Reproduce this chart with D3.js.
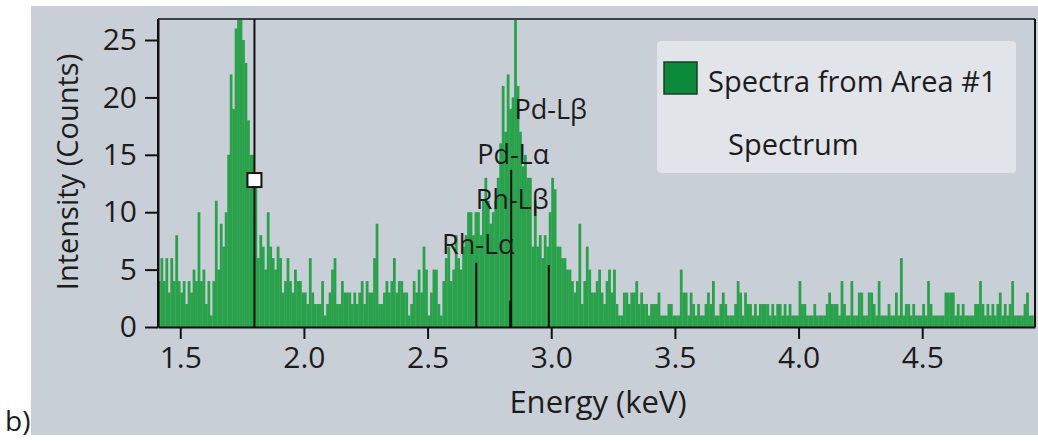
<!DOCTYPE html>
<html>
<head>
<meta charset="utf-8">
<script src="https://cdn.jsdelivr.net/npm/d3@7"></script>
<style>
  html, body { margin: 0; padding: 0; background: #ffffff; }
  svg { display: block; }
  text { font-family: "Open Sans", "Noto Sans", sans-serif; fill: #1c1c1c; }
</style>
</head>
<body>
<svg id="chart" width="1038" height="441"></svg>
<script>
// ---------------- data ----------------
const energyStart = 1.41;      // keV, left edge of first channel
const channelWidth = 0.01;     // keV per channel
const counts = [
  // 1.41 - 1.89
  4,6,4,6,3,6,4,8,4,3, 4,2,4,3,5,4,10,4,5,2, 4,1,4,11,5,9,7,10,15,22, 19,26,28,27,25,23,18,15,15,13, 6,8,7,5,10,7,6,5,7,
  // 1.90 - 2.39
  6,3,4,6,4,3,5,4,4,3, 3,2,6,3,2,2,2,4,1,2, 3,5,6,2,2,4,3,3,3,2, 3,2,3,4,2,4,3,3,6,9, 2,2,3,4,3,4,6,3,4,4,
  // 2.40 - 2.90
  3,3,1,2,4,3,5,3,7,5, 1,3,5,5,2,1,4,6,7,4, 5,8,6,5,7,8,10,10,8,10, 10,8,11,13,11,9,10,11,13,16, 21,17,22,19,20,27,21,17,14,15, 13,
  // 2.91 - 3.41
  13,7,11,7,8,6,8,7,10,13, 12,7,7,6,6,5,5,4,3,4, 9,2,4,7,5,3,3,4,5,3, 2,4,5,3,5,2,1,1,3,3, 2,3,3,4,2,3,2,2,1,2, 2,
  // 3.42 - 3.92
  2,3,1,1,1,2,2,1,1,1, 5,3,3,1,3,2,1,2,1,1, 2,3,2,4,1,1,2,3,2,1, 1,1,2,4,3,1,3,2,2,1, 2,1,2,2,2,2,1,2,1,2, 2,
  // 3.93 - 4.43
  1,2,1,2,1,1,1,4,2,2, 1,1,1,2,1,1,1,1,2,3, 2,2,2,1,4,2,1,1,4,1, 1,3,3,1,1,3,3,2,1,4, 1,1,1,2,1,1,3,1,6,1, 2,
  // 4.44 - 4.94
  2,1,2,1,1,1,2,1,4,2, 1,1,1,1,1,3,3,3,3,1, 2,1,2,1,1,1,1,2,2,4, 2,1,2,1,2,1,2,3,1,2, 1,2,4,1,1,1,1,2,3,1, 1
];
const lineNames    = ["Rh-L\u03b1", "Rh-L\u03b2", "Pd-L\u03b1", "Pd-L\u03b2"];
const lineEnergies = [2.697, 2.834, 2.838, 2.990];
const lineHeights  = [5.6, 2.3, 13.7, 5.4];
const cursorEnergy = 1.80;
const cursorValue  = 12.8;
const xTicks = [1.5, 2.0, 2.5, 3.0, 3.5, 4.0, 4.5];
const yTicks = [0, 5, 10, 15, 20, 25];
const xDomain = [1.41, 4.956];
const yDomain = [0, 26.83];
const xTitle = "Energy (keV)";
const yTitle = "Intensity (Counts)";
const legendLabels = ["Spectra from Area #1", "Spectrum"];
const panelLabel = "b)";

// ---------------- layout ----------------
const svg = d3.select("#chart");
const plot = { left: 158, right: 1035, top: 19, bottom: 327 };
const x = d3.scaleLinear().domain(xDomain).range([plot.left, plot.right]);
const y = d3.scaleLinear().domain(yDomain).range([plot.bottom, plot.top]);

// panel background
svg.append("rect").attr("x", 31).attr("y", 6).attr("width", 1007).attr("height", 429)
   .attr("fill", "#c9cfd7");
svg.append("text").attr("x", 5).attr("y", 431).attr("font-size", 28).text(panelLabel);

// clip
svg.append("clipPath").attr("id", "plotclip").append("rect")
   .attr("x", plot.left).attr("y", plot.top)
   .attr("width", plot.right - plot.left).attr("height", plot.bottom - plot.top);

const data = counts.map((c, i) => ({ e0: energyStart + i * channelWidth, c }));

svg.append("g").attr("clip-path", "url(#plotclip)")
  .selectAll("rect").data(data).join("rect")
  .attr("x", d => x(d.e0))
  .attr("width", d => x(d.e0 + channelWidth) - x(d.e0) + 0.3)
  .attr("y", d => y(d.c))
  .attr("height", d => y(0) - y(d.c))
  .attr("fill", "#2aa14b");

// element marker lines
const gLines = svg.append("g");
lineEnergies.forEach((e, i) => {
  gLines.append("line")
    .attr("x1", x(e)).attr("x2", x(e))
    .attr("y1", y(0)).attr("y2", y(lineHeights[i]))
    .attr("stroke", "#111").attr("stroke-width", 2);
});
const labelBase = y(lineHeights[0]) - 9;
lineNames.forEach((n, i) => {
  gLines.append("text")
    .attr("x", x(lineEnergies[i]) + 2).attr("y", labelBase - i * 45)
    .attr("text-anchor", "middle").attr("font-size", 27)
    .text(n);
});

// frame (top, left, right)
svg.append("line").attr("x1", plot.left).attr("x2", plot.right)
   .attr("y1", plot.top).attr("y2", plot.top).attr("stroke", "#3b4149").attr("stroke-width", 2);
svg.append("line").attr("x1", plot.left).attr("x2", plot.left)
   .attr("y1", plot.top).attr("y2", plot.bottom).attr("stroke", "#111").attr("stroke-width", 2);
svg.append("line").attr("x1", plot.right).attr("x2", plot.right)
   .attr("y1", plot.top).attr("y2", plot.bottom).attr("stroke", "#111").attr("stroke-width", 2);

// cursor
svg.append("line").attr("x1", x(cursorEnergy)).attr("x2", x(cursorEnergy))
   .attr("y1", plot.top).attr("y2", plot.bottom).attr("stroke", "#111").attr("stroke-width", 2);
svg.append("rect").attr("x", x(cursorEnergy) - 7).attr("y", y(cursorValue) - 7)
   .attr("width", 14).attr("height", 14).attr("fill", "#ffffff")
   .attr("stroke", "#111").attr("stroke-width", 2);

// axes
const xAxis = svg.append("g").attr("transform", `translate(0,${plot.bottom})`)
  .call(d3.axisBottom(x).tickValues(xTicks).tickFormat(d3.format(".1f"))
        .tickSize(12).tickSizeOuter(0).tickPadding(8));
const yAxis = svg.append("g").attr("transform", `translate(${plot.left},0)`)
  .call(d3.axisLeft(y).tickValues(yTicks).tickSize(13).tickSizeOuter(0).tickPadding(8));
[xAxis, yAxis].forEach(g => {
  g.select(".domain").attr("stroke", "#111").attr("stroke-width", 2);
  g.selectAll(".tick line").attr("stroke", "#111").attr("stroke-width", 2);
  g.selectAll(".tick text").attr("font-size", 30).attr("fill", "#1c1c1c")
   .attr("font-family", "'Open Sans', 'Noto Sans', sans-serif");
});

// axis titles
svg.append("text").attr("x", 598).attr("y", 413).attr("text-anchor", "middle")
   .attr("font-size", 31).text(xTitle);
svg.append("text").attr("transform", "translate(78,172) rotate(-90)")
   .attr("text-anchor", "middle").attr("font-size", 29).text(yTitle);

// legend
const lg = svg.append("g");
lg.append("rect").attr("x", 657).attr("y", 41).attr("width", 359).attr("height", 132)
  .attr("rx", 4).attr("fill", "#e1e4e9");
lg.append("rect").attr("x", 664).attr("y", 62).attr("width", 33).attr("height", 32)
  .attr("fill", "#0b8a3a").attr("stroke", "#1b3d27").attr("stroke-width", 1.5);
lg.append("text").attr("x", 708).attr("y", 92).attr("font-size", 29).text(legendLabels[0]);
lg.append("text").attr("x", 728).attr("y", 155).attr("font-size", 29).text(legendLabels[1]);
</script>
</body>
</html>
